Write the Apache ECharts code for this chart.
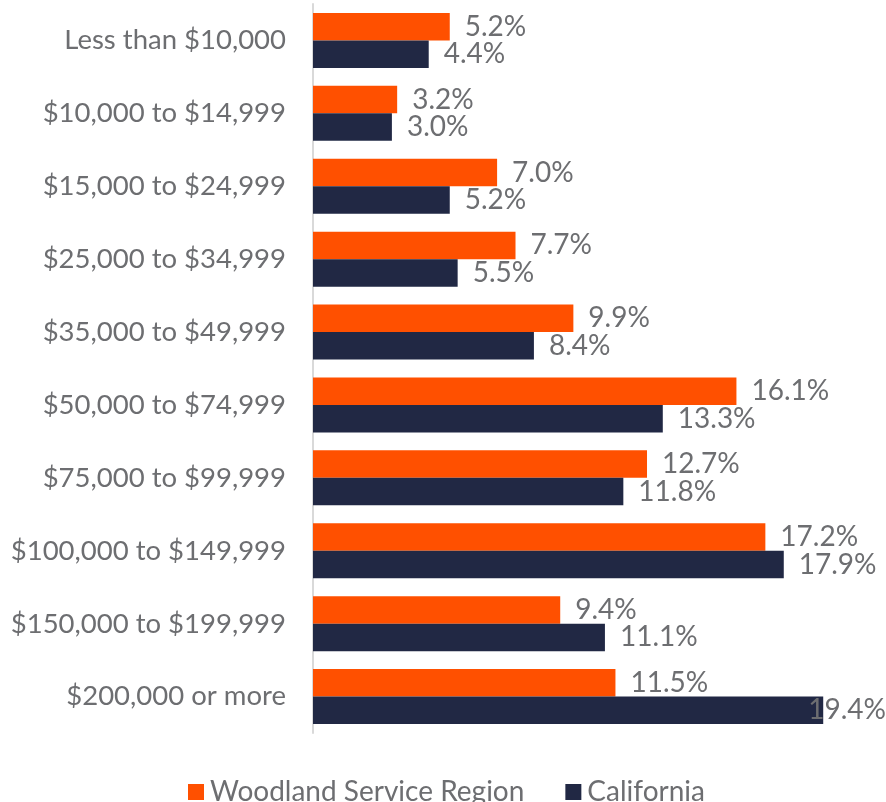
<!DOCTYPE html>
<html>
<head>
<meta charset="utf-8">
<script src="https://cdn.jsdelivr.net/npm/echarts@6/dist/echarts.min.js"></script>
<style>
  html, body { margin: 0; padding: 0; background: #fff; }
  #chart { width: 886px; height: 802px; }
</style>
</head>
<body>
<div id="chart"></div>
<script>
const categories = [
  'Less than $10,000',
  '$10,000 to $14,999',
  '$15,000 to $24,999',
  '$25,000 to $34,999',
  '$35,000 to $49,999',
  '$50,000 to $74,999',
  '$75,000 to $99,999',
  '$100,000 to $149,999',
  '$150,000 to $199,999',
  '$200,000 or more'
]
const woodland = [5.2, 3.2, 7.0, 7.7, 9.9, 16.1, 12.7, 17.2, 9.4, 11.5]
const california = [4.4, 3.0, 5.2, 5.5, 8.4, 13.3, 11.8, 17.9, 11.1, 19.4]

const chart = echarts.init(document.getElementById('chart'))
const labelStyle = {
  show: true,
  position: 'right',
  distance: 15,
  color: '#6d6e71',
  fontSize: 28,
  fontFamily: 'Lato',
  formatter: (p) => p.value.toFixed(1) + '%'
}

const calData = california.map((v) => {
  // last label has no room, Excel pulls it back over the bar
  if (v > 19) return { value: v, label: { offset: [-30, 0] } }
  return v
})

chart.setOption({
  animation: false,
  grid: { left: 313, top: 4, width: 526, height: 729 },
  legend: {
    top: 773,
    left: 183,
    itemWidth: 16,
    itemHeight: 16,
    itemGap: 41,
    icon: 'rect',
    textStyle: { color: '#6d6e71', fontSize: 28, fontFamily: 'Lato', padding: [0, 0, 0, 1] },
    data: ['Woodland Service Region', 'California']
  },
  xAxis: {
    type: 'value',
    min: 0,
    max: 20,
    show: false
  },
  yAxis: {
    type: 'category',
    inverse: true,
    data: categories,
    axisLine: { lineStyle: { color: '#d9d9d9', width: 2 } },
    axisTick: { show: false },
    axisLabel: { color: '#6d6e71', fontSize: 27.5, fontFamily: 'Lato', margin: 27 }
  },
  series: [
    {
      name: 'Woodland Service Region',
      type: 'bar',
      data: woodland,
      barGap: '0%',
      barCategoryGap: '24.5%',
      itemStyle: { color: '#ff5000' },
      label: labelStyle
    },
    {
      name: 'California',
      type: 'bar',
      data: calData,
      itemStyle: { color: '#212844' },
      label: labelStyle
    }
  ]
})
</script>
</body>
</html>
